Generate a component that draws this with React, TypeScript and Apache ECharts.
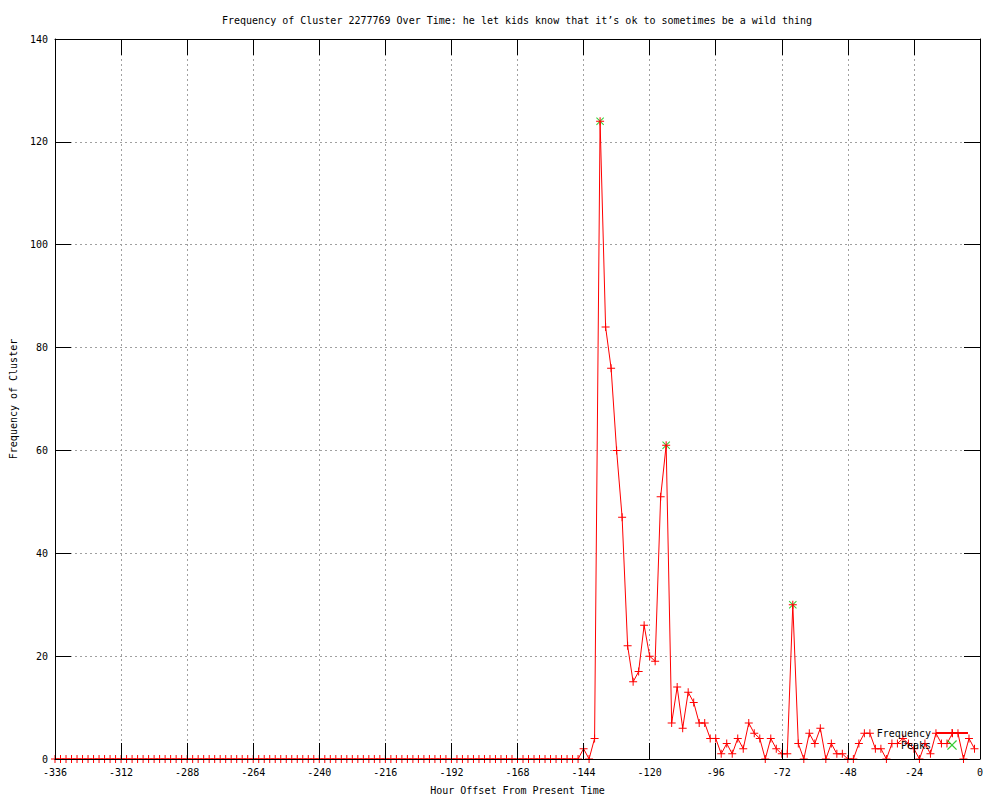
import React, { useEffect, useRef } from "react";
import * as echarts from "echarts";

const TITLE =
  "Frequency of Cluster 2277769 Over Time: he let kids know that it\u2019s ok to sometimes be a wild thing";
const X_NAME = "Hour Offset From Present Time";
const Y_NAME = "Frequency of Cluster";

const hours = [
  -336, -334, -332, -330, -328, -326, -324, -322, -320, -318, -316, -314,
  -312, -310, -308, -306, -304, -302, -300, -298, -296, -294, -292, -290,
  -288, -286, -284, -282, -280, -278, -276, -274, -272, -270, -268, -266,
  -264, -262, -260, -258, -256, -254, -252, -250, -248, -246, -244, -242,
  -240, -238, -236, -234, -232, -230, -228, -226, -224, -222, -220, -218,
  -216, -214, -212, -210, -208, -206, -204, -202, -200, -198, -196, -194,
  -192, -190, -188, -186, -184, -182, -180, -178, -176, -174, -172, -170,
  -168, -166, -164, -162, -160, -158, -156, -154, -152, -150, -148, -146,
  -144, -142, -140, -138, -136, -134, -132, -130, -128, -126, -124, -122,
  -120, -118, -116, -114, -112, -110, -108, -106, -104, -102, -100, -98,
  -96, -94, -92, -90, -88, -86, -84, -82, -80, -78, -76, -74,
  -72, -70, -68, -66, -64, -62, -60, -58, -56, -54, -52, -50,
  -48, -46, -44, -42, -40, -38, -36, -34, -32, -30, -28, -26,
  -24, -22, -20, -18, -16, -14, -12, -10, -8, -6, -4, -2,
];

const frequency = [
  0, 0, 0, 0, 0, 0, 0, 0, 0, 0, 0, 0,
  0, 0, 0, 0, 0, 0, 0, 0, 0, 0, 0, 0,
  0, 0, 0, 0, 0, 0, 0, 0, 0, 0, 0, 0,
  0, 0, 0, 0, 0, 0, 0, 0, 0, 0, 0, 0,
  0, 0, 0, 0, 0, 0, 0, 0, 0, 0, 0, 0,
  0, 0, 0, 0, 0, 0, 0, 0, 0, 0, 0, 0,
  0, 0, 0, 0, 0, 0, 0, 0, 0, 0, 0, 0,
  0, 0, 0, 0, 0, 0, 0, 0, 0, 0, 0, 0,
  2, 0, 4, 124, 84, 76, 60, 47, 22, 15, 17, 26,
  20, 19, 51, 61, 7, 14, 6, 13, 11, 7, 7, 4,
  4, 1, 3, 1, 4, 2, 7, 5, 4, 0, 4, 2,
  1, 1, 30, 3, 0, 5, 3, 6, 0, 3, 1, 1,
  0, 0, 3, 5, 5, 2, 2, 0, 3, 3, 4, 3,
  2, 0, 3, 1, 5, 3, 3, 5, 5, 0, 4, 2,
];

const peakHours = [-138, -114, -68];
const peakValues = [124, 61, 30];

const FONT = "'DejaVu Sans Mono', monospace";
const PLUS = "path://M3.5,0H4.5V3.5H8V4.5H4.5V8H3.5V4.5H0V3.5H3.5Z";
const CROSS =
  "path://M0,0.7L0.7,0L4,3.3L7.3,0L8,0.7L4.7,4L8,7.3L7.3,8L4,4.7L0.7,8L0,7.3L3.3,4Z";

export default function App() {
  const ref = useRef<HTMLDivElement>(null);

  useEffect(() => {
    if (!ref.current) return;
    const chart = echarts.init(ref.current, null, { renderer: "svg" });

    const freqData = hours.map((h, i) => [h, frequency[i]]);
    const peakData = peakHours.map((h, i) => [h, peakValues[i]]);

    const black = { color: "#000", width: 1 };
    const gridLine = { color: "#a0a0a0", width: 1, type: [2, 3] as any };

    chart.setOption({
      animation: false,
      textStyle: { fontFamily: FONT },
      title: {
        text: TITLE,
        left: 517,
        top: 15,
        padding: 0,
        textAlign: "center",
        textStyle: { fontSize: 10, fontWeight: "normal", color: "#000", fontFamily: FONT },
      },
      grid: { left: 55, right: 20, top: 39, bottom: 40 },
      legend: {
        data: ["Frequency", "Peaks"],
        orient: "vertical",
        right: 31,
        top: 728,
        align: "right",
        itemWidth: 32,
        itemHeight: 10,
        itemGap: 2,
        padding: 0,
        selectedMode: false,
        textStyle: { fontSize: 10, fontFamily: FONT, color: "#000" },
      },
      xAxis: [
        {
          type: "value",
          min: -336,
          max: 0,
          interval: 24,
          position: "bottom",
          z: 3,
          axisLine: { show: true, onZero: false, lineStyle: black },
          axisTick: { show: true, inside: true, length: 16, lineStyle: black },
          axisLabel: { fontSize: 10, color: "#000", margin: 8, fontFamily: FONT },
          splitLine: { show: false },
          name: X_NAME,
          nameLocation: "middle",
          nameGap: 26,
          nameTextStyle: { fontSize: 10, color: "#000", fontFamily: FONT },
        },
        {
          type: "value",
          min: -336,
          max: 0,
          interval: 24,
          position: "top",
          axisLine: { show: true, onZero: false, lineStyle: black },
          axisTick: { show: true, inside: true, length: 16, lineStyle: black },
          axisLabel: { show: false },
          splitLine: { show: true, lineStyle: gridLine },
        },
      ],
      yAxis: [
        {
          type: "value",
          min: 0,
          max: 140,
          interval: 20,
          position: "left",
          axisLine: { show: true, onZero: false, lineStyle: black },
          axisTick: { show: true, inside: true, length: 16, lineStyle: black },
          axisLabel: { fontSize: 10, color: "#000", margin: 7, fontFamily: FONT },
          splitLine: { show: true, lineStyle: gridLine },
          name: Y_NAME,
          nameLocation: "middle",
          nameGap: 37,
          nameTextStyle: { fontSize: 10, color: "#000", fontFamily: FONT },
        },
        {
          type: "value",
          min: 0,
          max: 140,
          interval: 20,
          position: "right",
          axisLine: { show: true, onZero: false, lineStyle: black },
          axisTick: { show: true, inside: true, length: 16, lineStyle: black },
          axisLabel: { show: false },
          splitLine: { show: false },
        },
      ],
      series: [
        {
          name: "Peaks",
          type: "scatter",
          xAxisIndex: 0,
          yAxisIndex: 0,
          z: 2,
          symbol: CROSS,
          symbolSize: 8,
          itemStyle: { color: "#00c000" },
          data: peakData,
        },
        {
          name: "Frequency",
          type: "line",
          xAxisIndex: 0,
          yAxisIndex: 0,
          z: 2.5,
          symbol: PLUS,
          symbolSize: 8,
          showSymbol: true,
          showAllSymbol: true,
          clip: false,
          lineStyle: { color: "#ff0000", width: 1 },
          itemStyle: { color: "#ff0000" },
          data: freqData,
        },
      ],
    });

    return () => chart.dispose();
  }, []);

  return (
    <div
      ref={ref}
      style={{ position: "absolute", left: 0, top: 0, width: 1000, height: 800, background: "#fff" }}
    />
  );
}
